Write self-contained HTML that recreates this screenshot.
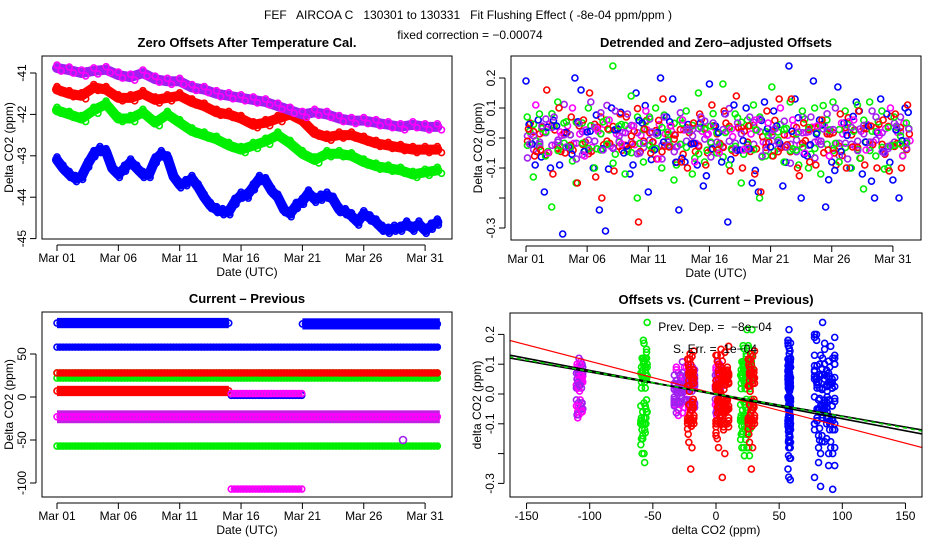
<!DOCTYPE html>
<html><head><meta charset="utf-8">
<style>
body{margin:0;background:#fff;}
svg{display:block;font-family:"Liberation Sans",sans-serif;}
.t{font-size:12px;white-space:pre;}
.ttl{font-size:13px;font-weight:bold;}
</style></head>
<body>
<svg id="c" width="936" height="540" viewBox="0 0 936 540">
<text x="468" y="19" text-anchor="middle" class="t" font-size="13">FEF   AIRCOA C   130301 to 130331   Fit Flushing Effect ( -8e-04 ppm/ppm )</text>
<text x="470" y="39" text-anchor="middle" class="t">fixed correction = −0.00074</text>
</svg>
<script>
// ---------- data ----------
const dayTicks=[1,6,11,16,21,26,31];
const dayLabels=["Mar 01","Mar 06","Mar 11","Mar 16","Mar 21","Mar 26","Mar 31"];
const seriesNames=["blue","green","red","purple"];
const seriesColors=["#0000ff","#00ee00","#ff0000","#a020f0"];
// panel 1 (daily values, day 1..32)
const p1Purple=[-40.88,-40.93,-41.0,-40.95,-40.92,-41.05,-41.1,-41.0,-41.15,-41.2,-41.2,-41.35,-41.4,-41.5,-41.55,-41.6,-41.65,-41.7,-41.8,-41.9,-42.0,-41.95,-42.0,-42.1,-42.15,-42.15,-42.2,-42.25,-42.3,-42.25,-42.3,-42.3];
const p1Red=[-41.4,-41.5,-41.55,-41.35,-41.4,-41.6,-41.6,-41.5,-41.65,-41.6,-41.55,-41.7,-41.8,-41.95,-42.0,-42.1,-42.25,-42.2,-42.1,-42.0,-42.15,-42.45,-42.55,-42.5,-42.5,-42.6,-42.7,-42.75,-42.8,-42.85,-42.85,-42.85];
const p1Green=[-41.9,-42.0,-42.1,-41.9,-41.75,-42.1,-42.1,-41.95,-42.2,-42.0,-42.2,-42.4,-42.5,-42.6,-42.75,-42.85,-42.75,-42.65,-42.5,-42.7,-42.95,-43.1,-42.95,-42.95,-43.0,-43.15,-43.25,-43.3,-43.35,-43.45,-43.4,-43.35];
// blue at half-day steps from day 1
const p1Blue=[-43.1,-43.3,-43.45,-43.55,-43.5,-43.2,-42.95,-42.85,-42.9,-43.3,-43.45,-43.3,-43.15,-43.3,-43.45,-43.45,-43.1,-42.95,-43.05,-43.5,-43.7,-43.65,-43.55,-43.75,-44.0,-44.2,-44.3,-44.35,-44.35,-44.1,-43.95,-43.95,-43.75,-43.55,-43.6,-43.85,-44.0,-44.3,-44.4,-44.2,-44.1,-43.9,-44.05,-44.0,-43.95,-44.05,-44.3,-44.35,-44.45,-44.6,-44.4,-44.5,-44.6,-44.75,-44.8,-44.75,-44.75,-44.65,-44.75,-44.65,-44.8,-44.7,-44.6];
const p1Ticks=[-41,-42,-43,-44,-45];
// panel 2 residuals (half-day steps)
const resBlue=[0.19,-0.02,0.06,-0.18,-0.1,0.04,-0.32,-0.03,0.2,0.16,0.02,-0.1,-0.24,-0.31,0.1,0.03,-0.05,-0.12,0.15,0.05,-0.18,-0.04,0.2,0.07,0.13,-0.24,-0.08,-0.02,-0.09,-0.16,0.18,0.04,-0.08,-0.28,0.11,-0.04,0.1,-0.15,-0.18,0.12,-0.03,0.04,-0.16,0.24,0.13,-0.2,-0.06,0.19,0.06,-0.23,-0.08,0.17,0.05,-0.1,0.12,-0.12,0.04,-0.2,0.13,0.08,-0.14,-0.2,0.1];
const resGreen=[0.07,-0.13,0.08,-0.06,-0.23,0.12,0.05,-0.03,-0.15,0.05,0.1,-0.1,-0.04,0.06,0.24,0.04,-0.12,0.14,-0.2,-0.08,0.07,0.1,-0.1,0.02,-0.14,0.06,0.09,-0.12,0.15,-0.08,0.04,-0.05,0.18,-0.09,0.08,-0.15,0.06,0.11,-0.2,-0.06,0.17,0.02,-0.08,0.12,-0.04,0.09,-0.1,0.1,-0.12,0.06,0.12,-0.08,0.09,-0.1,0.11,-0.17,0.12,-0.06,0.09,-0.1,0.07,-0.02,0.05];
const resRed=[0.03,-0.06,-0.04,0.16,-0.12,0.1,-0.05,0.07,-0.15,0.06,0.15,-0.13,-0.2,0.03,-0.11,0.08,0.07,-0.02,-0.28,0.03,-0.05,-0.07,0.13,-0.03,0.01,-0.08,-0.1,0.05,0.08,-0.09,0.11,-0.04,0.09,-0.11,0.14,-0.1,0.04,-0.12,-0.18,0.09,-0.06,0.13,-0.03,0.13,-0.1,0.05,-0.08,-0.09,0.06,-0.04,-0.05,0.08,-0.1,-0.03,0.09,-0.09,0.04,-0.1,0.06,-0.11,0.08,-0.1,0.11];
const resPurple=[-0.02,0.11,0.04,-0.05,0.07,0.02,-0.03,0.1,0.05,-0.06,0.12,0.03,-0.04,0.06,0.09,-0.02,0.08,0.04,-0.05,0.09,0.02,-0.07,0.07,0.04,-0.03,0.06,0.03,-0.08,0.07,0.01,0.05,-0.05,0.08,0.03,0.05,-0.04,0.07,0.06,-0.06,0.05,0.03,0.1,-0.03,0.06,0.02,-0.05,0.07,0.04,0.03,-0.06,0.1,0.05,-0.07,0.06,0.03,-0.04,0.09,0.02,-0.05,0.1,0.04,-0.06,0.03];
const resTicks=[0.2,0.1,0.0,-0.1,-0.2,-0.3];
const resTickLabels=["0.2","0.1","0.0","-0.1","","-0.3"];
// panel 3 segments (series index, level ppm, start day, end day, spread ppm)
const p3Series=[0,0,0,0,1,1,1,2,2,2,3,3,3];
const p3Level=[86,85,58,2,22,28,-57,28,7,-21,-23,-107,4];
const p3Start=[1,21,1,15.2,1,1,1,1,1,15.2,1,15.2,15.2];
const p3End=[15,32.2,32.2,21,32.2,32.2,32.2,32.2,15,21,32.2,21,21];
const p3Spread=[12,13,4,5,5,7,4,5,12,4,15,5,6];
const p3Ticks=[50,0,-50,-100];
// panel 4: levels per series
const p4BlueLevels=[86,58];
const p4GreenLevels=[-57,22,26];
const p4RedLevels=[5,28,-20];
const p4PurpleLevels=[-108,-25,2];
const p4Xticks=[-150,-100,-50,0,50,100,150];
const fitSlopes=[-0.0011,-0.00081,-0.00074,-0.00076];
const fitIntercepts=[0,-0.002,0,0];
const fitColors=["#ff0000","#000000","#000000","#00cc00"];
</script>
<script>
const svg=document.getElementById('c');
const NS='http://www.w3.org/2000/svg';
function mk(tag,attrs,parent){const e=document.createElementNS(NS,tag);for(const k in attrs)e.setAttribute(k,attrs[k]);(parent||svg).appendChild(e);return e;}
function txt(x,y,s,attrs,parent){const e=mk('text',Object.assign({x:x,y:y},attrs),parent);e.textContent=s;return e;}

const panels=[
 {name:'offsets',x0:42,y0:56,x1:452,y1:239,title:'Zero Offsets After Temperature Cal.',ylab:'Delta CO2 (ppm)',xlab:'Date (UTC)'},
 {name:'detrended',x0:511,y0:56,x1:921,y1:240,title:'Detrended and Zero\u2013adjusted Offsets',ylab:'Delta CO2 (ppm)',xlab:'Date (UTC)'},
 {name:'current-previous',x0:42,y0:312,x1:452,y1:497,title:'Current \u2013 Previous',ylab:'Delta CO2 (ppm)',xlab:'Date (UTC)'},
 {name:'offsets-vs-diff',x0:510,y0:313,x1:922,y1:497,title:'Offsets vs. (Current \u2013 Previous)',ylab:'delta CO2 (ppm)',xlab:'delta CO2 (ppm)'}
];
const X1=d=>57+(d-1)*12.27, Y1=v=>73+(-41-v)*41.4;
const X2=d=>526+(d-1)*12.23, Y2=v=>138-v*300;
const X3=X1, Y3=v=>397-v*0.86;
const X4=v=>716+v*1.263, Y4=v=>394-v*298;

panels.forEach((p,i)=>{
  const g=mk('g',{});
  
  
  p.g=g;
  const cp=mk('clipPath',{id:'clip'+i},g);
  mk('rect',{x:p.x0,y:p.y0,width:p.x1-p.x0,height:p.y1-p.y0},cp);
  const t=txt((p.x0+p.x1)/2,p.y0-9,p.title,{'text-anchor':'middle',class:'ttl'},g);
  
  
  const yl=txt(0,0,p.ylab,{'text-anchor':'middle',class:'t','font-size':'11',transform:`translate(${p.x0-29},${(p.y0+p.y1)/2}) rotate(-90)`},g);
  
  
  const xl=txt((p.x0+p.x1)/2,p.y1+37,p.xlab,{'text-anchor':'middle',class:'t','font-size':'11'},g);
  
  
  p.plot=mk('g',{'clip-path':`url(#clip${i})`},g);
});
function frame(p){const r=mk('rect',{x:p.x0,y:p.y0,width:p.x1-p.x0,height:p.y1-p.y0,fill:'none',stroke:'#000','stroke-width':1},p.g);
 
 }
function xAxis(p,vals,labels,xf){
  const g=mk('g',{},p.g);
  
  
  mk('line',{x1:xf(vals[0]),x2:xf(vals[vals.length-1]),y1:p.y1+6,y2:p.y1+6,stroke:'#000'},g);
  vals.forEach((v,k)=>{const x=xf(v);mk('line',{x1:x,x2:x,y1:p.y1+6,y2:p.y1+12,stroke:'#000'},g);
    const t=txt(x,p.y1+23,labels[k],{'text-anchor':'middle',class:'t','font-size':'11'},g);
    
    });
}
function yAxis(p,vals,labels,yf){
  const g=mk('g',{},p.g);
  
  
  mk('line',{x1:p.x0-6,x2:p.x0-6,y1:yf(vals[0]),y2:yf(vals[vals.length-1]),stroke:'#000'},g);
  vals.forEach((v,k)=>{const y=yf(v);mk('line',{x1:p.x0-12,x2:p.x0-6,y1:y,y2:y,stroke:'#000'},g);
    if(labels[k]!==''){const t=txt(0,0,labels[k],{'text-anchor':'middle',class:'t','font-size':'11',transform:`translate(${p.x0-16},${y}) rotate(-90)`},g);
    
    }});
}
function circ(parent,x,y,col,r){mk('circle',{cx:x,cy:y,r:r||3,fill:'none',stroke:col,'stroke-width':1.6},parent);}

// ---- panel 1 ----
(function(){
 const p=panels[0];
 const sets=[[p1Blue,0,0.5],[p1Green,1,1],[p1Red,2,1],[p1Purple,3,1]];
 sets.forEach(([arr,si,step])=>{
   const g=mk('g',{},p.plot);
   
   
   const pts2=arr.map((v,k)=>X1(1+k*step)+','+Y1(v)).join(' ');
   mk('polyline',{points:pts2,fill:'none',stroke:seriesColors[si],'stroke-width':10,'stroke-linejoin':'round','stroke-linecap':'round'},g);
   arr.forEach((v,k)=>{circ(g,X1(1+k*step),Y1(v)-3,si===3?'#ff00ff':seriesColors[si]);circ(g,X1(1+k*step+step/2)-2,Y1(v)+3,si===3?'#ff00ff':seriesColors[si]);});
 });
 frame(p);
 xAxis(p,dayTicks,dayLabels,X1);
 yAxis(p,p1Ticks,p1Ticks.map(String),Y1);
})();

// ---- panel 2 ----
const resAll=[resBlue,resGreen,resRed,resPurple];
(function(){
 const p=panels[1];
 // dense core
 const g0=mk('g',{},p.plot);
 
 
 [3,2,1,0].forEach(si=>{
   const arr=resAll[si], n=arr.length;
   arr.forEach((v,k)=>{
     const w=arr[n-1-k];
     circ(g0,X2(1.25+k*0.5+si*0.05),Y2(w*0.45),si===3?'#ff00ff':seriesColors[si]);
     circ(g0,X2(1.12+k*0.5),Y2(-v*0.35),si===0?'#a020f0':seriesColors[si]);
   });
 });
 [0,1,2,3].forEach(si=>{
   const g=mk('g',{},p.plot);
   
   
   resAll[si].forEach((v,k)=>{const d=1+k*0.5+si*0.1;circ(g,X2(d),Y2(v),si===3&&k%2?'#ff00ff':seriesColors[si]);});
 });
 frame(p);
 xAxis(p,dayTicks,dayLabels,X2);
 yAxis(p,resTicks,resTickLabels,Y2);
})();

// ---- panel 3 ----
(function(){
 const p=panels[2];
 p3Series.forEach((si,k)=>{
   const g=mk('g',{},p.plot);
   
   
   const col=seriesColors[si];
   const h=Math.max(p3Spread[k]*0.86,5);
   mk('rect',{x:X3(p3Start[k]),y:Y3(p3Level[k])-h/2,width:X3(p3End[k])-X3(p3Start[k]),height:h,fill:si===3?'#c020e0':col},g);
   for(let d=p3Start[k];d<=p3End[k];d+=0.25){circ(g,X3(d),Y3(p3Level[k]),si===3?'#ff00ff':col,3);}
 });
 circ(p.plot,X3(29.2),Y3(-50),'#a020f0',3.5);
 frame(p);
 xAxis(p,dayTicks,dayLabels,X3);
 yAxis(p,p3Ticks,p3Ticks.map(String),Y3);
})();

// ---- panel 4 ----
(function(){
 const p=panels[3];
 const lv=[p4BlueLevels,p4GreenLevels,p4RedLevels,p4PurpleLevels];
 [3,1,2,0].forEach(si=>{
   const g=mk('g',{},p.plot);
   
   
   lv[si].forEach((L,j)=>{
     const wide=(L===86)?16:(L===-25?16:(L===5?10:(L===58?2:5)));
     resAll[si].forEach((v,k)=>{const off=((k*7)%11/10-0.5)*wide;circ(g,X4(L+off),Y4(v*(j===0?1:0.9)),si===3&&k%2?'#ff00ff':seriesColors[si]);});
     if(L===86||L===-25||L===5||L===58){
       resAll[si].forEach((v,k)=>{const off=((k*5)%9/8-0.5)*wide;circ(g,X4(L+off),Y4(v*0.5),si===3?'#a020f0':seriesColors[si]);});
     }
   });
 });
 const lg=mk('g',{},p.plot);
 
 
 fitSlopes.forEach((s,k)=>{
   mk('line',{x1:X4(-170),y1:Y4(fitIntercepts[k]+s*-170),x2:X4(170),y2:Y4(fitIntercepts[k]+s*170),stroke:fitColors[k],'stroke-width':k===0?1.2:1.6,'stroke-dasharray':k===3?'4,4':'none'},lg);
 });
 const a=txt(715,331,'Prev. Dep. =  \u22128e\u221204',{'text-anchor':'middle',class:'t'},p.g);
 
 
 const b=txt(715,353,'S. Err. =  1e\u221204',{'text-anchor':'middle',class:'t'},p.g);
 
 
 frame(p);
 xAxis(p,p4Xticks,p4Xticks.map(String),X4);
 yAxis(p,resTicks,resTickLabels,Y4);
})();
</script>
</body></html>
